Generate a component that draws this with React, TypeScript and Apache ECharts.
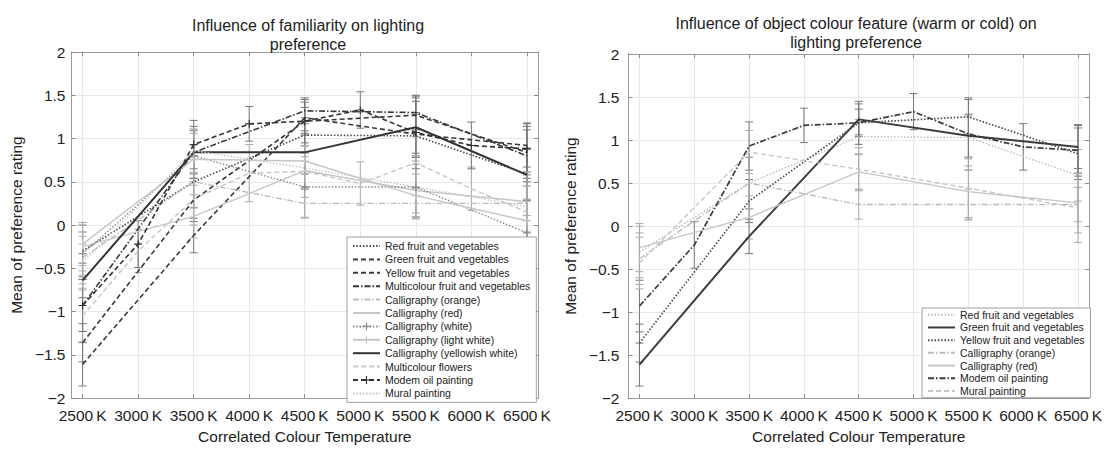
import React, { useEffect, useRef } from "react";
import * as echarts from "echarts";

// ---- data ----
const CCT_ALL = [2500, 3000, 3500, 4000, 4500, 5000, 5500, 6000, 6500];
const CCT_MAIN = [2500, 3500, 4500, 5500, 6500];
const Y_MIN = -2;
const Y_MAX = 2;

const RED_FRUIT = [-0.3, 0.5, 1.04, 1.03, 0.59];
const GREEN_FRUIT = [-1.61, -0.12, 1.24, 1.05, 0.92];
const YELLOW_FRUIT = [-1.36, 0.29, 1.2, 1.27, 0.84];
const MULTI_FRUIT = [-0.93, 0.84, 1.32, 1.3, 0.8];
const CAL_ORANGE = [-0.38, 0.5, 0.25, 0.25, 0.25];
const CAL_RED = [-0.25, 0.1, 0.63, 0.4, 0.27];
const CAL_WHITE = [-0.33, 0.8, 0.44, 0.44, -0.09];
const CAL_LIGHT_WHITE = [-0.22, 0.76, 0.74, 0.34, 0.05];
const CAL_YELLOWISH = [-0.64, 0.84, 0.84, 1.13, 0.58];
const MULTI_FLOWERS = [-1.05, -0.3, 0.3, 0.6, 0.62, 0.48, 0.72, 0.42, 0.15];
const MODERN_OIL = [-0.93, -0.22, 0.93, 1.17, 1.2, 1.33, 1.07, 0.92, 0.88];
const MURAL = [-0.43, 0.86, 0.66, 0.44, 0.21];

const ERR_RED = [0.3, 0.3, 0.2, 0.25, 0.3];
const ERR_GREEN = [0.25, 0.2, 0.18, 0.25, 0.25];
const ERR_YELLOW = [0.22, 0.25, 0.16, 0.2, 0.3];
const ERR_MULTI_FRUIT = [0.3, 0.25, 0.15, 0.2, 0.3];
const ERR_CAL_ORANGE = [0.3, 0.3, 0.17, 0.18, 0.2];
const ERR_CAL_RED = [0.28, 0.25, 0.2, 0.3, 0.35];
const ERR_CAL_WHITE = [0.25, 0.3, 0.35, 0.3, 0.2];
const ERR_CAL_LIGHT_WHITE = [0.25, 0.3, 0.3, 0.25, 0.25];
const ERR_CAL_YELLOWISH = [0.2, 0.3, 0.25, 0.3, 0.3];
const ERR_FLOWERS = [0.3, 0.25, 0.3, 0.33, 0.3, 0.25, 0.3, 0.25, 0.3];
const ERR_MODERN = [0.3, 0.27, 0.28, 0.2, 0.25, 0.21, 0.42, 0.27, 0.3];
const ERR_MURAL = [0.3, 0.25, 0.25, 0.36, 0.4];

const NAME_RED = "Red fruit and vegetables";
const NAME_GREEN = "Green fruit and vegetables";
const NAME_YELLOW = "Yellow fruit and vegetables";
const NAME_MULTI_FRUIT = "Multicolour fruit and vegetables";
const NAME_CAL_ORANGE = "Calligraphy (orange)";
const NAME_CAL_RED = "Calligraphy (red)";
const NAME_CAL_WHITE = "Calligraphy (white)";
const NAME_CAL_LIGHT_WHITE = "Calligraphy (light white)";
const NAME_CAL_YELLOWISH = "Calligraphy (yellowish white)";
const NAME_FLOWERS = "Multicolour flowers";
const NAME_MODERN = "Modem oil painting";
const NAME_MURAL = "Mural painting";

const TITLE_LEFT = "Influence of familiarity on lighting\npreference";
const TITLE_RIGHT = "Influence of object colour feature (warm or cold) on\nlighting preference";
const X_NAME = "Correlated Colour Temperature";
const Y_NAME = "Mean of preference rating";

// ---- styles ----
const FONT = "'Liberation Sans', Arial, Helvetica, sans-serif";
const DARK = "#3a3a3a";
const MID = "#8c8c8c";
const LIGHT = "#c6c6c6";
const DOT = [1.5, 1.8];
const DASH = [5, 3];
const DASHDOT = [6, 2, 1.5, 2];
const PLUS = "path://M4.3,0H5.7V4.3H10V5.7H5.7V10H4.3V5.7H0V4.3H4.3Z";

type Def = {
  name: string;
  x: number[];
  y: number[];
  err: number[];
  color: string;
  type: any;
  width: number;
  marker?: boolean;
  dark: boolean;
};

function buildOption(cfg: {
  grid: any;
  title: string;
  titleLeft: number;
  titleTop: number;
  yNameGap: number;
  yLabelMargin: number;
  legend: any;
  defs: Def[];
}) {
  const lineSeries = cfg.defs.map((d) => ({
    type: "line",
    name: d.name,
    data: d.x.map((x, i) => [x, d.y[i]]),
    symbol: d.marker ? PLUS : "none",
    symbolSize: 8,
    showSymbol: !!d.marker,
    itemStyle: { color: d.color, opacity: d.marker ? 1 : 0 },
    lineStyle: { color: d.color, width: d.width, type: d.type },
    z: 3,
    silent: true,
  }));
  const errData: any[] = [];
  cfg.defs.forEach((d) => {
    d.x.forEach((x, i) => errData.push([x, d.y[i], d.err[i], d.dark ? 1 : 0]));
  });
  const errSeries = {
    type: "custom",
    data: errData,
    encode: { x: 0, y: 1 },
    z: 2,
    silent: true,
    renderItem: (params: any, api: any) => {
      const x = api.value(0);
      const y = api.value(1);
      const e = api.value(2);
      const c = api.value(3);
      const top = api.coord([x, y + e]);
      const bot = api.coord([x, y - e]);
      const hw = 4;
      const stroke = c === 1 ? "#777" : "#aaa";
      const st = { stroke, lineWidth: 1 };
      return {
        type: "group",
        children: [
          { type: "line", shape: { x1: top[0], y1: top[1], x2: bot[0], y2: bot[1] }, style: st },
          { type: "line", shape: { x1: top[0] - hw, y1: top[1], x2: top[0] + hw, y2: top[1] }, style: st },
          { type: "line", shape: { x1: bot[0] - hw, y1: bot[1], x2: bot[0] + hw, y2: bot[1] }, style: st },
        ],
      };
    },
  };

  const axisLineStyle = { lineStyle: { color: "#9a9a9a", width: 1 } };
  const tick = { show: true, inside: true, length: 4, lineStyle: { color: "#8a8a8a" } };
  const fmtY = (v: number) => (v < 0 ? "\u2212" + Math.abs(v) : String(v));

  return {
    animation: false,
    textStyle: { fontFamily: FONT },
    title: {
      text: cfg.title,
      left: cfg.titleLeft,
      top: cfg.titleTop,
      textAlign: "center",
      textStyle: { fontSize: 16, fontWeight: "normal", color: "#222", lineHeight: 19, fontFamily: FONT },
    },
    grid: cfg.grid,
    legend: {
      orient: "vertical",
      left: cfg.legend.left,
      top: cfg.legend.top,
      padding: cfg.legend.padding,
      itemGap: cfg.legend.itemGap,
      data: cfg.defs.map((d) =>
        d.marker ? { name: d.name } : { name: d.name, itemStyle: { opacity: 0 } }
      ),
      backgroundColor: "#fff",
      borderColor: "#a0a0a0",
      borderWidth: 1,
      borderRadius: 0,
      itemWidth: 27,
      itemHeight: 10,
      selectedMode: false,
      textStyle: { fontSize: 10.5, color: "#222", fontFamily: FONT, lineHeight: cfg.legend.lh },
    },
    xAxis: [
      {
        type: "value",
        min: 2400,
        max: 6600,
        position: "bottom",
        name: X_NAME,
        nameLocation: "middle",
        nameGap: 24,
        nameTextStyle: { fontSize: 15.5, color: "#222" },
        axisLine: { show: true, onZero: false, ...axisLineStyle },
        axisTick: { ...tick, customValues: CCT_ALL },
        axisLabel: {
          customValues: CCT_ALL,
          formatter: (v: number) => v + "\u2009K",
          fontSize: 15.5,
          color: "#222",
          margin: 9,
        },
        splitLine: { show: true, lineStyle: { color: "#e8e8e8" } },
      },
      {
        type: "value",
        min: 2400,
        max: 6600,
        position: "top",
        axisLine: { show: true, onZero: false, ...axisLineStyle },
        axisTick: { ...tick, customValues: CCT_ALL },
        axisLabel: { show: false },
        splitLine: { show: false },
      },
    ],
    yAxis: [
      {
        type: "value",
        min: Y_MIN,
        max: Y_MAX,
        interval: 0.5,
        position: "left",
        name: Y_NAME,
        nameLocation: "middle",
        nameGap: cfg.yNameGap,
        nameTextStyle: { fontSize: 15.5, color: "#222" },
        axisLine: { show: true, onZero: false, ...axisLineStyle },
        axisTick: tick,
        axisLabel: { formatter: fmtY, fontSize: 15.5, color: "#222", margin: cfg.yLabelMargin },
        splitLine: { show: true, lineStyle: { color: "#e8e8e8" } },
      },
      {
        type: "value",
        min: Y_MIN,
        max: Y_MAX,
        interval: 0.5,
        position: "right",
        axisLine: { show: true, onZero: false, ...axisLineStyle },
        axisTick: tick,
        axisLabel: { show: false },
        splitLine: { show: false },
      },
    ],
    series: [errSeries, ...lineSeries],
  };
}

const LEFT_DEFS: Def[] = [
  { name: NAME_RED, x: CCT_MAIN, y: RED_FRUIT, err: ERR_RED, color: "#4a4a4a", type: DOT, width: 1.6, dark: true },
  { name: NAME_GREEN, x: CCT_MAIN, y: GREEN_FRUIT, err: ERR_GREEN, color: DARK, type: DASH, width: 1.6, dark: true },
  { name: NAME_YELLOW, x: CCT_MAIN, y: YELLOW_FRUIT, err: ERR_YELLOW, color: DARK, type: DASH, width: 1.6, dark: true },
  { name: NAME_MULTI_FRUIT, x: CCT_MAIN, y: MULTI_FRUIT, err: ERR_MULTI_FRUIT, color: DARK, type: DASHDOT, width: 1.6, dark: true },
  { name: NAME_CAL_ORANGE, x: CCT_MAIN, y: CAL_ORANGE, err: ERR_CAL_ORANGE, color: "#bdbdbd", type: DASHDOT, width: 1.4, dark: false },
  { name: NAME_CAL_RED, x: CCT_MAIN, y: CAL_RED, err: ERR_CAL_RED, color: LIGHT, type: "solid", width: 1.4, dark: false },
  { name: NAME_CAL_WHITE, x: CCT_MAIN, y: CAL_WHITE, err: ERR_CAL_WHITE, color: MID, type: DOT, width: 1.4, marker: true, dark: false },
  { name: NAME_CAL_LIGHT_WHITE, x: CCT_MAIN, y: CAL_LIGHT_WHITE, err: ERR_CAL_LIGHT_WHITE, color: LIGHT, type: "solid", width: 1.4, marker: true, dark: false },
  { name: NAME_CAL_YELLOWISH, x: CCT_MAIN, y: CAL_YELLOWISH, err: ERR_CAL_YELLOWISH, color: "#333", type: "solid", width: 2, dark: true },
  { name: NAME_FLOWERS, x: CCT_ALL, y: MULTI_FLOWERS, err: ERR_FLOWERS, color: LIGHT, type: DASH, width: 1.4, dark: false },
  { name: NAME_MODERN, x: CCT_ALL, y: MODERN_OIL, err: ERR_MODERN, color: "#333", type: DASH, width: 1.6, marker: true, dark: true },
  { name: NAME_MURAL, x: CCT_MAIN, y: MURAL, err: ERR_MURAL, color: LIGHT, type: DOT, width: 1.4, dark: false },
];

const RIGHT_DEFS: Def[] = [
  { name: NAME_RED, x: CCT_MAIN, y: RED_FRUIT, err: ERR_RED, color: "#bcbcbc", type: DOT, width: 1.4, dark: false },
  { name: NAME_GREEN, x: CCT_MAIN, y: GREEN_FRUIT, err: ERR_GREEN, color: "#3c3c3c", type: "solid", width: 2, dark: true },
  { name: NAME_YELLOW, x: CCT_MAIN, y: YELLOW_FRUIT, err: ERR_YELLOW, color: "#4a4a4a", type: DOT, width: 1.7, dark: true },
  { name: NAME_CAL_ORANGE, x: CCT_MAIN, y: CAL_ORANGE, err: ERR_CAL_ORANGE, color: "#bdbdbd", type: DASHDOT, width: 1.4, dark: false },
  { name: NAME_CAL_RED, x: CCT_MAIN, y: CAL_RED, err: ERR_CAL_RED, color: LIGHT, type: "solid", width: 1.4, dark: false },
  { name: NAME_MODERN, x: CCT_ALL, y: MODERN_OIL, err: ERR_MODERN, color: "#3c3c3c", type: DASHDOT, width: 1.7, dark: true },
  { name: NAME_MURAL, x: CCT_MAIN, y: MURAL, err: ERR_MURAL, color: LIGHT, type: DASH, width: 1.4, dark: false },
];

export default function App() {
  const leftRef = useRef<HTMLDivElement>(null);
  const rightRef = useRef<HTMLDivElement>(null);

  useEffect(() => {
    const l = echarts.init(leftRef.current as HTMLDivElement, null, { renderer: "svg" });
    const r = echarts.init(rightRef.current as HTMLDivElement, null, { renderer: "svg" });
    l.setOption(
      buildOption({
        grid: { left: 68, top: 52, width: 470, height: 350 },
        title: TITLE_LEFT,
        titleLeft: 303,
        titleTop: 11,
        yNameGap: 47,
        yLabelMargin: 6,
        legend: { left: 347, top: 237, padding: [3, 6, 3, 5], itemGap: 1.4, lh: 12 },
        defs: LEFT_DEFS,
      })
    );
    r.setOption(
      buildOption({
        grid: { left: 59, top: 54, width: 476, height: 349 },
        title: TITLE_RIGHT,
        titleLeft: 297,
        titleTop: 9,
        yNameGap: 44,
        yLabelMargin: 9,
        legend: { left: 368, top: 308, padding: [1, 6, 1, 5], itemGap: 1.2, lh: 11.5 },
        defs: RIGHT_DEFS,
      })
    );
    return () => {
      l.dispose();
      r.dispose();
    };
  }, []);

  return (
    <div style={{ position: "absolute", left: 0, top: 0, width: 1108, height: 449, background: "#fff" }}>
      <div ref={leftRef} style={{ position: "absolute", left: 0, top: 0, width: 554, height: 449 }} />
      <div ref={rightRef} style={{ position: "absolute", left: 554, top: 0, width: 554, height: 449 }} />
    </div>
  );
}
